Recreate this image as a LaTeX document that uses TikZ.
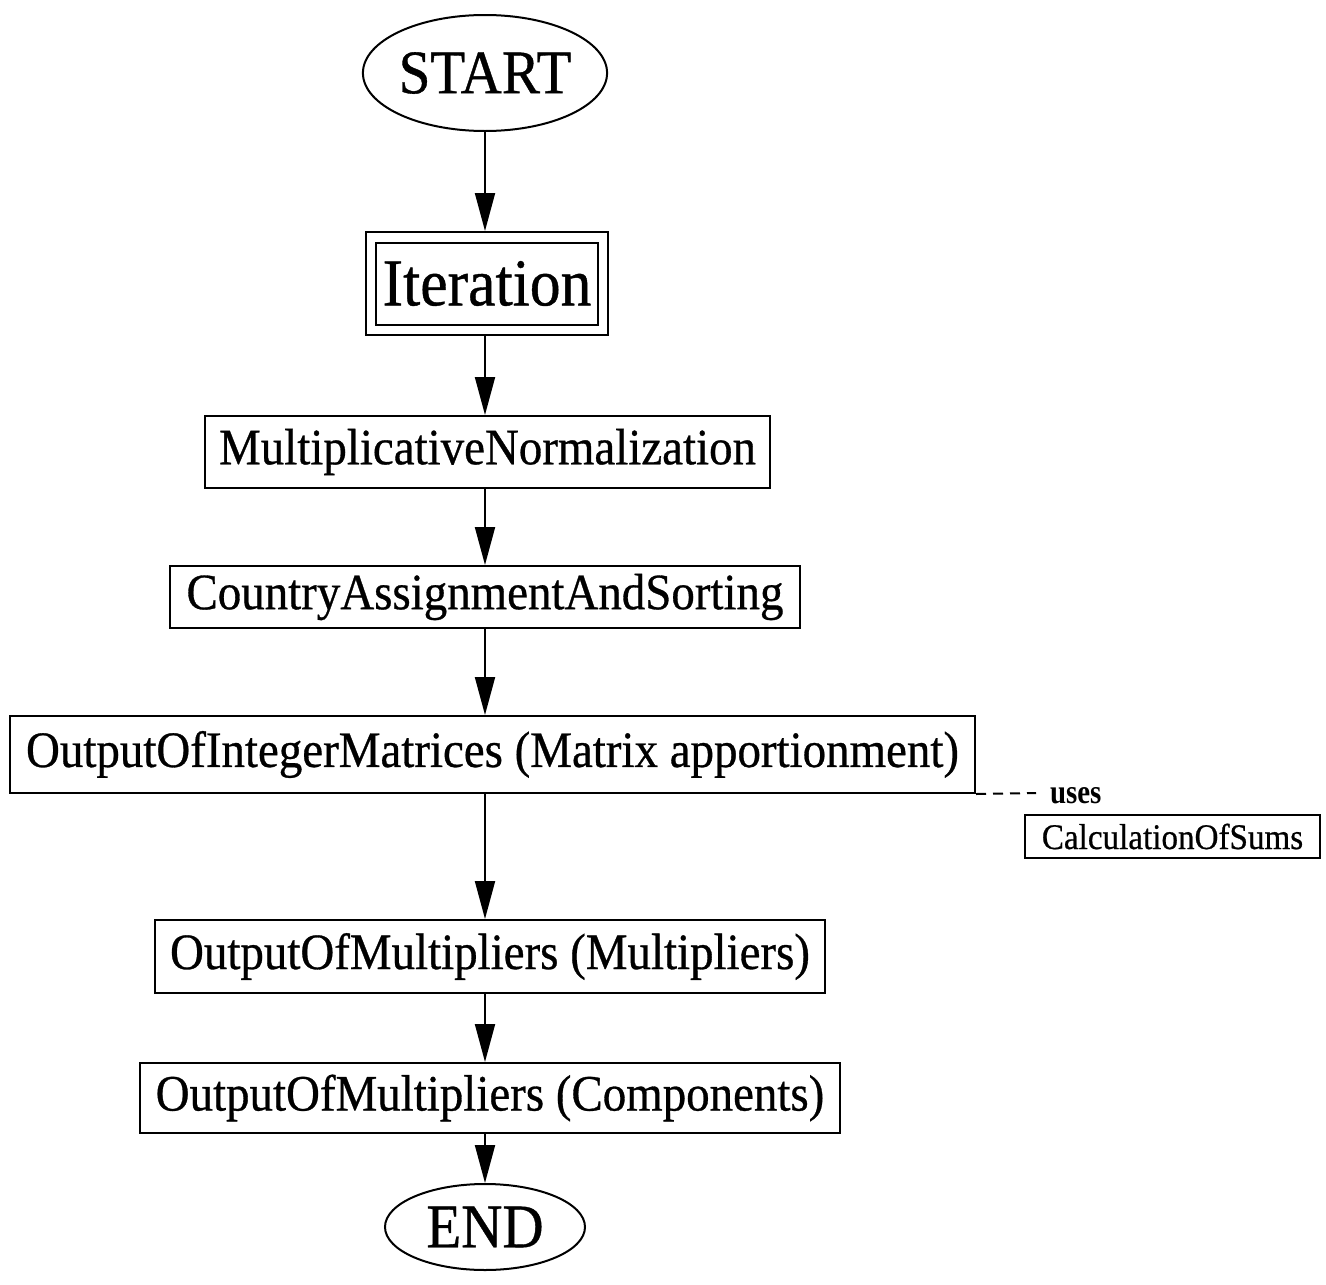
\documentclass[tikz,border=0pt]{standalone}
\usepackage{fontspec}
\setmainfont{Liberation Serif}[FakeStretch=0.92, FakeBold=0.6]
\newfontfamily\narrowbold{Liberation Serif Bold}[FakeStretch=0.85]
\usetikzlibrary{shapes.geometric,arrows.meta}
\begin{document}
\begin{tikzpicture}[x=1pt,y=-1pt,
  line width=2pt,
  proc/.style={draw, rectangle, inner sep=0pt, font=\fontsize{51}{54}\selectfont},
  term/.style={draw, ellipse, inner sep=0pt, font=\fontsize{62}{65}\selectfont},
  small/.style={font=\fontsize{36}{38}\selectfont, inner sep=0pt},
  flow/.style={-{Triangle[length=38pt,width=20pt]}},
]
\useasboundingbox (0,0) rectangle (1326,1285);

% terminals
\node[term, minimum width=236pt, minimum height=116pt] (start) at (485,73) {START};
\node[term, minimum width=200pt, minimum height=86pt] (end) at (485,1227) {END};

% iteration block (double frame)
\node[draw, minimum width=242pt, minimum height=103pt, inner sep=0pt] (iter) at (487,283.5) {};
\node[draw, minimum width=222pt, minimum height=82pt, inner sep=0pt,
      font=\fontsize{67}{70}\selectfont] (iterin) at (487,283.5) {Iteration};

% processing steps
\node[proc, minimum width=565pt, minimum height=72pt] (mn)  at (487.5,452) {MultiplicativeNormalization};
\node[proc, minimum width=630pt, minimum height=62pt] (cas) at (485,597) {CountryAssignmentAndSorting};
\node[proc, minimum width=965pt, minimum height=77pt] (oim) at (492.5,754.5) {OutputOfIntegerMatrices (Matrix apportionment)};
\node[proc, minimum width=670pt, minimum height=73pt] (omm) at (490,956.5) {OutputOfMultipliers (Multipliers)};
\node[proc, minimum width=700pt, minimum height=70pt] (omc) at (490,1098) {OutputOfMultipliers (Components)};

% helper routine
\node[inner sep=0pt, anchor=base west, font=\fontsize{34}{36}\narrowbold] (uses) at (1049,803) {uses};
\node[small, draw, minimum width=295pt, minimum height=43pt] (calc) at (1172.5,836.5) {CalculationOfSums};
\coordinate (dashend) at (1036,793);

% main flow
\draw[flow] (start.south) -- (start.south |- iter.north);
\draw[flow] (start.south |- iter.south) -- (start.south |- mn.north);
\draw[flow] (start.south |- mn.south) -- (start.south |- cas.north);
\draw[flow] (start.south |- cas.south) -- (start.south |- oim.north);
\draw[flow] (start.south |- oim.south) -- (start.south |- omm.north);
\draw[flow] (start.south |- omm.south) -- (start.south |- omc.north);
\draw[flow] (start.south |- omc.south) -- (end.north);

% dependency
\draw[dash pattern=on 10pt off 7pt] (oim.south east) -- (dashend);
\end{tikzpicture}
\end{document}
